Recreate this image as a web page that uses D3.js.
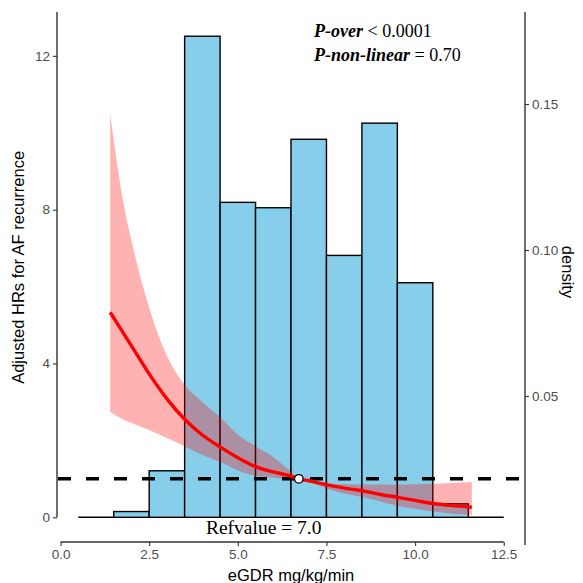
<!DOCTYPE html>
<html>
<head>
<meta charset="utf-8">
<script src="https://cdn.jsdelivr.net/npm/d3@7"></script>
<style>
  body { margin: 0; background: #fff; }
  svg { display: block; }
  .tick text { fill: #4d4d4d; font-family: "Liberation Sans", Arial, sans-serif; font-size: 13.5px; }
  .tick line { stroke: #333; stroke-width: 1.1; }
  .axis-title { font-family: "Liberation Sans", Arial, sans-serif; font-size: 16.5px; fill: #000; }
</style>
</head>
<body>
<div id="chart"></div>
<script>
// data
const binMids = [1, 2, 3, 4, 5, 6, 7, 8, 9, 10, 11, 12];
const binHeights = [0, 0.15, 1.21, 12.51, 8.19, 8.05, 9.83, 6.81, 10.25, 6.1, 0.35, 0];
const binWidth = 1;

const curveX     = [1.4, 1.75, 2.0, 2.5, 3.0, 3.5, 4.0, 4.5, 5.0, 5.5, 6.0, 6.5, 6.72, 7.0, 7.5, 8.0, 8.5, 9.0, 9.5, 10.0, 10.5, 11.0, 11.6];
const curveHR    = [5.33, 4.82, 4.46, 3.73, 3.08, 2.55, 2.14, 1.83, 1.55, 1.32, 1.18, 1.07, 1.0, 0.95, 0.85, 0.76, 0.69, 0.6, 0.52, 0.44, 0.36, 0.31, 0.26];
const curveUpper = [10.48, 8.3, 7.2, 5.45, 4.2, 3.45, 3.0, 2.6, 2.15, 1.85, 1.57, 1.18, 1.0, 0.95, 0.88, 0.86, 0.85, 0.85, 0.85, 0.86, 0.87, 0.89, 0.92];
const curveLower = [2.74, 2.55, 2.45, 2.27, 2.06, 1.85, 1.62, 1.44, 1.22, 1.08, 1.03, 1.0, 1.0, 0.93, 0.75, 0.62, 0.53, 0.42, 0.3, 0.22, 0.15, 0.1, 0.06];

const refX = 6.72, refHR = 1;
const xTicks = [0, 2.5, 5, 7.5, 10, 12.5];
const yTicks = [0, 4, 8, 12];
const densityTicks = [0.05, 0.10, 0.15];

// 1: GLOBALS
const margin = { top: 12, right: 58, bottom: 38, left: 57 };
const width = 583 - margin.left - margin.right;
const height = 583 - margin.top - margin.bottom;

const svg = d3.select("#chart")
  .append("svg")
  .attr("width", 583)
  .attr("height", 583)
  .append("g")
  .attr("transform", `translate(${margin.left},${margin.top})`);

// 2: SCALES
const xScale = d3.scaleLinear().domain([-0.1, 13.1]).range([0, width]);
const yScale = d3.scaleLinear().domain([-0.72, 13.14]).range([height, 0]);
const yDensity = d3.scaleLinear().domain([0.05, 0.15]).range([396 - margin.top, 104 - margin.top]);

// 3: HISTOGRAM
svg.append("line")
  .attr("x1", xScale(binMids[0] - binWidth / 2))
  .attr("x2", xScale(binMids[binMids.length - 1] + binWidth / 2))
  .attr("y1", yScale(0)).attr("y2", yScale(0))
  .attr("stroke", "#000").attr("stroke-width", 1.4);

svg.selectAll(".bar")
  .data(binMids.map((m, i) => ({ m, h: binHeights[i] })).filter(d => d.h > 0))
  .enter().append("rect")
  .attr("class", "bar")
  .attr("x", d => xScale(d.m - binWidth / 2))
  .attr("width", d => xScale(d.m + binWidth / 2) - xScale(d.m - binWidth / 2))
  .attr("y", d => yScale(d.h))
  .attr("height", d => yScale(0) - yScale(d.h))
  .attr("fill", "#87ceeb")
  .attr("stroke", "#000")
  .attr("stroke-width", 1.4);

// 4: CONFIDENCE BAND + CURVE
const pts = curveX.map((x, i) => ({ x, hr: curveHR[i], lo: curveLower[i], hi: curveUpper[i] }));

svg.append("path")
  .datum(pts)
  .attr("fill", "red")
  .attr("fill-opacity", 0.3)
  .attr("d", d3.area()
    .x(d => xScale(d.x))
    .y0(d => yScale(d.lo))
    .y1(d => yScale(d.hi))
    .curve(d3.curveMonotoneX));

svg.append("line")
  .attr("x1", 1).attr("x2", width - 6)
  .attr("y1", yScale(1)).attr("y2", yScale(1))
  .attr("stroke", "#000")
  .attr("stroke-width", 3.5)
  .attr("stroke-dasharray", "13,15");

svg.append("path")
  .datum(pts)
  .attr("fill", "none")
  .attr("stroke", "red")
  .attr("stroke-width", 3.4)
  .attr("d", d3.line()
    .x(d => xScale(d.x))
    .y(d => yScale(d.hr))
    .curve(d3.curveMonotoneX));

svg.append("circle")
  .attr("cx", xScale(refX))
  .attr("cy", yScale(refHR))
  .attr("r", 4.3)
  .attr("fill", "#fff")
  .attr("stroke", "#000")
  .attr("stroke-width", 1.3);

// 5: AXES
const yAxis = svg.append("g")
  .call(d3.axisLeft(yScale).tickValues(yTicks).tickSize(4).tickPadding(3));
yAxis.select(".domain").remove();
svg.append("line")
  .attr("x1", 0).attr("x2", 0)
  .attr("y1", 0).attr("y2", yScale(0))
  .attr("stroke", "#333").attr("stroke-width", 1.4);

const yRight = svg.append("g")
  .attr("transform", `translate(${width},0)`)
  .call(d3.axisRight(yDensity).tickValues(densityTicks).tickFormat(d3.format(".2f")).tickSize(4).tickPadding(3));
yRight.select(".domain").remove();
svg.append("line")
  .attr("x1", width).attr("x2", width)
  .attr("y1", 0).attr("y2", height)
  .attr("stroke", "#333").attr("stroke-width", 1.4);

const xAxis = svg.append("g")
  .attr("transform", `translate(0,${height - 3})`)
  .call(d3.axisBottom(xScale).tickValues(xTicks).tickFormat(d3.format(".1f")).tickSize(4).tickPadding(3));
xAxis.select(".domain").remove();
svg.append("line")
  .attr("x1", xScale(0)).attr("x2", xScale(12.5))
  .attr("y1", height - 3).attr("y2", height - 3)
  .attr("stroke", "#333").attr("stroke-width", 1.4);

// 6: LABELS
svg.append("text")
  .attr("class", "axis-title")
  .attr("transform", "rotate(-90)")
  .attr("x", -(yScale(6.5)))
  .attr("y", 24 - margin.left)
  .attr("text-anchor", "middle")
  .text("Adjusted HRs for AF recurrence");

svg.append("text")
  .attr("class", "axis-title")
  .attr("transform", `translate(${width + 37},${272 - margin.top}) rotate(90)`)
  .attr("text-anchor", "middle")
  .text("density");

svg.append("text")
  .attr("class", "axis-title")
  .attr("x", width / 2)
  .attr("y", 581 - margin.top)
  .attr("text-anchor", "middle")
  .text("eGDR mg/kg/min");

svg.append("text")
  .attr("x", xScale(5.73))
  .attr("y", yScale(-0.43))
  .attr("text-anchor", "middle")
  .style("font-family", "'Liberation Serif', 'Times New Roman', serif")
  .style("font-size", "19.5px")
  .text("Refvalue = 7.0");

const pLines = [["P-over", " < 0.0001"], ["P-non-linear", " = 0.70"]];
pLines.forEach(([a, b], i) => {
  const t = svg.append("text")
    .attr("x", 314 - margin.left)
    .attr("y", 36.7 - margin.top + i * 24)
    .style("font-family", "'Liberation Serif', 'Times New Roman', serif")
    .style("font-size", "18px");
  t.append("tspan").style("font-weight", "bold").style("font-style", "italic").text(a);
  t.append("tspan").text(b);
});
</script>
</body>
</html>
